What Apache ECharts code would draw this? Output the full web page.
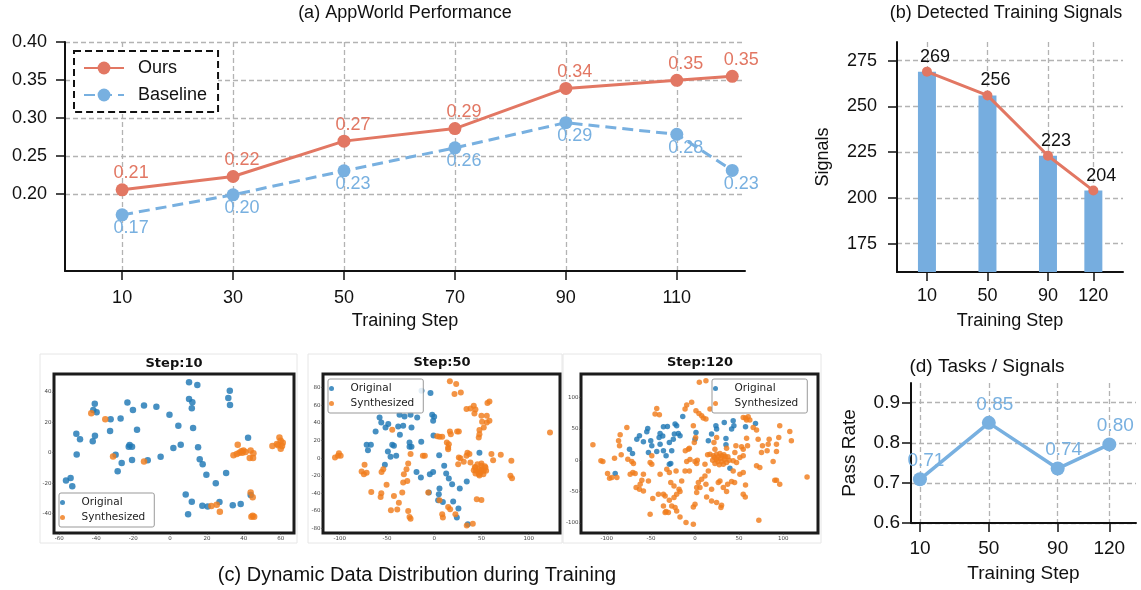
<!DOCTYPE html>
<html lang="en">
<head>
<meta charset="UTF-8">
<title>Training overview</title>
<script src="https://cdn.jsdelivr.net/npm/echarts@6/dist/echarts.min.js"></script>
<style>
    html, body { margin: 0; padding: 0; background: #fff; }
    #main { width: 1141px; height: 590px; }
</style>
</head>
<body>
<div id="main"></div>
<script type="text/javascript">
// ---- (a) AppWorld performance
var stepsA = [10, 30, 50, 70, 90, 110, 120];
var oursA = [0.2057, 0.2232, 0.2697, 0.2862, 0.339, 0.3496, 0.3549];
var baseA = [0.1728, 0.1991, 0.2307, 0.2609, 0.294, 0.2786, 0.2312];
var ticksAx = [10, 30, 50, 70, 90, 110];
var ticksAy = [0.2, 0.25, 0.3, 0.35, 0.4];

// ---- (b) detected training signals
var stepsB = [10, 50, 90, 120];
var signalsB = [269, 256, 223, 204];
var ticksBy = [175, 200, 225, 250, 275];

// ---- (d) tasks / signals
var stepsD = [10, 50, 90, 120];
var passD = [0.709, 0.8496, 0.7357, 0.796];
var ticksDy = [0.6, 0.7, 0.8, 0.9];

// ---- (c) t-SNE snapshots
var s10Orig = [[10.3,46.3],[14.8,44.6],[32.4,40.8],[31.6,36],[32.5,31.4],[-40.8,32.3],[-41.6,28.1],[-39.8,26.6],[-23.1,33],[-20.1,28.1],[-14.1,31],[-7.4,30.3],[10.3,35.4],[12.1,33.2],[11.8,29.2],[-0.3,25],[-26.8,22.6],[-32.2,22],[-32.5,14.3],[-17.9,15.2],[4.5,17.8],[12.5,16.3],[-50.8,12.5],[-48.8,8.8],[-40.7,11.2],[-41.9,7.5],[42.3,9.9],[-21.9,5.1],[-20.6,4],[-22.4,4],[5.8,5.3],[1.8,3.1],[15.2,3.6],[-50.6,-1.1],[-29.5,-1.3],[-20.6,-4.8],[-26.2,-6.8],[-12.1,-5],[-5.1,-2.6],[16.1,-4.3],[17.7,-7.6],[-28.4,-12.2],[19.7,-14.4],[30.4,-13.3],[24.8,-20.1],[-56.4,-18.2],[-53.9,-16.6],[-53,-22.1],[8.5,-27.4],[11.8,-32.2],[17.5,-34.8],[20.4,-35.3],[26.8,-32.4],[34,-34.6],[38.3,-33.7],[9.8,-40.5],[43.7,-27.8]];
var s10Syn = [[-42.7,25.9],[-35.1,22],[-30.9,-2.4],[-14.1,-5.7],[36.7,5.3],[34.4,-1.7],[36.2,-0.8],[37.6,0],[38.7,0.9],[39.8,1.4],[39.2,0],[40.9,0.5],[43.7,1.4],[45.2,-0.4],[43.2,-3.5],[45,-3.5],[55.5,4.4],[57.9,5.7],[59.3,10.1],[60,7.9],[61.1,6.6],[58.6,4.9],[60,2.7],[60.7,4.4],[43.7,-26.1],[44.8,-29.3],[25.3,-34.2],[22.4,-35],[27,-38.8],[44.8,-41.4],[45.6,-42.1],[44.1,-42.1]];

var s50Orig = [[-3.9,74],[-13.4,76.6],[-57.8,46.3],[-56,40.6],[-48.6,38.7],[-51.5,34.9],[-38.1,36],[-32.8,36.8],[-36.7,49.3],[-31.4,47.4],[-25,49.3],[-18,46.3],[-24,34.9],[-62,30.4],[-36.3,26.6],[-2.1,49.3],[0,47],[-1.1,42.5],[-0.7,25.8],[-71.5,15.2],[-67,15.2],[-70.1,9.1],[-44.4,15.2],[-42.6,14.1],[-49,7.6],[-46.2,1.5],[-40.2,2.7],[-26.1,17.8],[-13.7,18.6],[-24,12.9],[-52.2,-7.6],[-18.7,-15.6],[-14.1,-22],[-4.6,-18.2],[-1.1,-15.6],[5.3,3.4],[10.6,-8.7],[12.7,-17.4],[15.5,-23.1],[19,-29.6],[5.6,-34.5],[4.9,-41],[-5.6,-39.1],[4.2,-47.8],[9.2,-49.7],[20.1,-49.3],[27.1,-34.5],[34.5,-26.6],[25.7,-57.3],[24,-67.5],[35.6,-75.1],[47.9,6.1],[-26.1,12.9]];
var s50Syn = [[16.6,87.3],[23.3,84.2],[21.5,72.8],[28.2,74.7],[56.4,62.6],[58.5,64.5],[34.2,55.8],[38.4,56.5],[41.9,59.6],[43.7,55.4],[42.6,50.8],[50,48.2],[55.7,48.2],[55.7,40.6],[58.5,42.5],[52.5,34.9],[50.7,41.4],[47.9,31.9],[47.2,23.5],[47.9,27.3],[16.6,30.4],[17.6,27.3],[24.3,30.4],[26.1,30.4],[3.2,25],[8.5,24.3],[13.4,17.8],[15.5,15.9],[14.8,12.1],[35.2,6.1],[34.2,2.7],[27.8,0],[25.4,-6.8],[31.3,-4.2],[38.4,-4.9],[43.7,-10.6],[47.2,-12.5],[50.7,-12.5],[49,-16.3],[52.5,-14.4],[44.4,-14.4],[50,-8.7],[54.3,-10.6],[47.2,-18.2],[60.6,4.6],[70.5,3.8],[62.4,-2.3],[81.7,-3],[80.7,-20.1],[82.4,-22.8],[45.1,-46.7],[50,-47.4],[122.6,29.2],[-100.8,5.7],[-99,2.7],[-105,0.8],[-101.8,2.7],[-73.7,-7.6],[-76.8,-15.2],[-74.4,-18.2],[-71.5,-16.7],[-53.9,-12.5],[-55.7,-15.6],[-66.6,-38.3],[-56,-39.8],[-56.7,-44],[-50.4,-30.3],[-42.6,-42.9],[-37.4,-50.5],[-39.1,-58.2],[-45.8,-59.2],[-33.8,-39.1],[-32.8,-27.7],[-32.1,-18.2],[-29.3,-12.5],[-27.5,-6.1],[-28.5,-25.8],[-27.5,-59.9],[-26.1,-66.8],[-25,-68.7],[-44.4,32.2],[-25,4.6],[-12,2.7],[-9.9,2.7],[-6.3,-39.1],[5.6,-47.8],[14.8,-55.4],[16.9,-58.1],[8.5,-63.7],[9.2,-67.5],[22.5,-63.7],[34.5,-76.6],[40.9,-74.4],[5.6,24.3],[14.8,10.2],[26.1,0.8],[37.3,4.6],[43,-9.9],[45.8,-6.8],[50,-6.1],[53.6,-9.1],[55,-14.4],[52.1,-18.2],[47.9,-19.7],[43.7,-17.4],[41.9,-13.7],[49,-14.4]];

var s120Orig = [[-13.9,69.9],[-22.6,57.6],[-20.8,54.9],[-31.3,53.9],[-35.8,53.3],[-53.6,50.7],[-54.7,45.3],[-63,39],[-66,33.6],[-58.5,29.3],[-50.2,30.9],[-40.7,36.3],[-36.6,38.4],[-23.4,41.6],[-18.9,42.7],[-24.6,33.6],[-29.1,28.3],[-39.6,25.6],[-49,22.9],[-52.8,12.3],[-43.4,13.9],[-35.8,15],[-32.8,7],[-26.4,15],[-27.5,-5.3],[-29.1,-6.4],[-74.3,17.6],[-70.9,10.7],[-90.5,-21.3],[1.1,44.3],[0,33.6],[18.8,41.6],[23.7,54.9],[24.5,49.6],[15.1,30.9],[35.1,34.7],[35.1,24.5],[33.2,60.3],[43.3,62.9],[44.1,54.9],[41.5,49.6],[57.3,53.3],[68.6,58.7],[39.6,-12.8],[-17,39],[-39.6,42.7]];
var s120Syn = [[4.9,124.3],[12.4,126.9],[-115.8,24.5],[-106.7,-1.1],[-104.5,-2.1],[-99.2,-21.3],[-96.9,-28.8],[-83.7,8.5],[-77.3,52.3],[-84.9,40.5],[-86.7,30.9],[-85.6,22.9],[-76.2,1.6],[-71.7,-2.1],[-69.8,-5.3],[-70.5,-19.7],[-67.9,-21.3],[-58.5,-22.4],[-60.3,-32],[-62.2,-38.4],[-66.8,-43.7],[-63,-46.4],[-58.5,-49.1],[-52.8,-33.1],[-50.9,-3.7],[-49,7],[-47.9,-61.3],[-41.5,-54.4],[-35.8,-54.4],[-33.9,-57.1],[-39.6,-22.4],[-27.5,-35.7],[-23.8,-41.1],[-18.1,-46.4],[-17,-50.1],[-20.8,-54.4],[-32,-14.4],[-21.5,-17.1],[-11.3,-17.1],[-9.4,-2.1],[-5.7,1.1],[0,-2.1],[2.6,0],[1.9,-5.3],[-6.4,19.2],[-7.5,17.6],[-3.8,92.3],[-9.4,88],[-11.3,81.6],[1.1,78.9],[4.5,74.7],[7.5,70.9],[9.4,67.2],[12.4,65.6],[17,81.6],[-43.4,82.7],[-45.3,73.6],[-40.4,72.5],[-1.9,54.9],[-0.8,28.3],[0.7,36.3],[21.5,28.3],[24.5,36.3],[22.6,17.6],[14.3,8.5],[11.3,-6.4],[15.1,-17.1],[11.3,-25.1],[7.5,-30.4],[3.8,-35.7],[5.6,-43.7],[1.9,-43.7],[13.2,-58.7],[18.8,-65.1],[24.5,-67.7],[30.1,-72],[29.4,-75.7],[26.4,-35.7],[28.3,-33.1],[32.1,-43.7],[37,-38.4],[41.5,-34.1],[44.9,-35.7],[35.8,-50.1],[43.3,-17.1],[50.9,-22.4],[54.7,-19.7],[57.3,-39.5],[54.7,-54.4],[57,-58.7],[50.9,4.3],[54.7,7],[54.7,17.6],[52.8,21.3],[59.6,22.9],[46.4,22.9],[58.5,35.2],[69.8,48],[71.6,33.6],[76.5,22.9],[69.8,-9.1],[73.5,-11.7],[88.6,-2.1],[90.5,-32],[92.4,-32],[96.1,-38.4],[127.1,-26.7],[72.4,-96],[57.3,67.2],[54.7,68.3],[60.3,69.3],[58.5,64],[62.2,64],[66,52.3],[84.1,33.6],[92.4,25.6],[95,36.3],[107.5,45.9],[109.3,30.9],[92.4,13.9],[96.1,54.9],[81.8,15],[83,25.6],[75.4,12.3],[-50.9,-86.4],[-35.8,-73.1],[-32.8,-82.1],[-30.2,-83.7],[-26.4,-73.1],[-22.6,-75.7],[-20.8,-81.1],[-17,-90.7],[-10.2,-99.7],[-1.9,-102.4],[0,-70.4],[-1.9,-74.7],[-33.9,-83.7],[-11,14.9],[-6.4,-17.1],[35.8,19.2],[43.3,-1.1],[47.1,-3.7],[45.2,12.3],[17,9.6],[18.8,-46.4],[12.4,-38.4],[1.9,-51.7],[-15.1,-33.1],[-23.8,-59.7],[-29.1,-64],[-29.1,-19.7],[-49,-6.4],[-91.3,3.2],[-88.6,-27.7],[-94.3,-27.7],[-73.5,-22.4],[20.7,6.9],[24.5,9.6],[28.3,10.7],[32.8,8.5],[37.3,5.3],[38.8,0],[35.8,-3.7],[32.1,-6.4],[27.5,-7.5],[22.6,-5.3],[20,0],[24.5,1.6],[29,3.2],[33.5,1.1],[30.5,-2.1],[26,-2.1],[22.2,4.3],[34.3,5.3],[30.2,6.9],[26.4,5.3]];

var FONT = 'Liberation Sans, Arial, sans-serif';
var MPL = 'DejaVu Sans, sans-serif';
var RED = '#e27763', BLUE = '#78b0e0', BAR = '#76addf';
var C_ORIG = '#1f77b4', C_SYN = '#f07c1c';

var myChart = echarts.init(document.getElementById('main'));

function pairs(xs, ys) {
    return xs.map(function (x, i) { return [x, ys[i]]; });
}

// axis with left/bottom spine, outward ticks and dashed grid at the given ticks
function plotAxis(gi, min, max, ticks, o) {
    return {
        type: 'value', gridIndex: gi, min: min, max: max,
        axisLine: {show: true, onZero: false, lineStyle: {color: '#111', width: 2}},
        axisTick: {show: true, customValues: ticks, length: o.tickLen, lineStyle: {color: '#111', width: 1.5}},
        axisLabel: {customValues: ticks, margin: o.margin, fontSize: o.fs, color: '#111', fontFamily: FONT,
            formatter: o.fmt},
        splitLine: {show: true, lineStyle: {color: '#b3b3b3', type: [5, 3], width: 1.3}},
        name: o.name, nameLocation: 'middle', nameGap: o.nameGap,
        nameTextStyle: {fontSize: o.fs, color: '#111', fontFamily: FONT}
    };
}

// small framed axis for the scatter snapshots
function scAxis(gi, min, max, ticks) {
    return {
        type: 'value', gridIndex: gi, min: min, max: max,
        axisLine: {show: false, onZero: false},
        axisTick: {show: true, customValues: ticks, length: 1.5, lineStyle: {color: '#333', width: 0.8}},
        axisLabel: {customValues: ticks, margin: 2.5, fontSize: 5.5, color: '#444', fontFamily: MPL},
        splitLine: {show: false}
    };
}

function scGrid(left, width) {
    return {left: left, top: 374, width: width, height: 159, show: true,
        borderColor: '#1b1b1b', borderWidth: 3, backgroundColor: '#fff', outerBoundsMode: 'none'};
}

function scLegend(left) {
    return {
        data: ['Original', 'Synthesized'], left: left, top: 379, orient: 'vertical',
        icon: 'circle', itemWidth: 28, itemHeight: 5, itemGap: 2, padding: [3, 9, 3, 1],
        backgroundColor: 'rgba(255,255,255,0.85)', borderColor: '#999', borderWidth: 1, borderRadius: 2,
        textStyle: {fontSize: 10.5, lineHeight: 13, color: '#222', fontFamily: MPL}
    };
}

function scSeries(name, idx, data, color, size) {
    return {
        type: 'scatter', name: name, xAxisIndex: idx, yAxisIndex: idx, data: data,
        symbolSize: size, itemStyle: {color: color, opacity: 0.82}
    };
}

var fmt2 = function (v) { return v.toFixed(2); };
var fmt1 = function (v) { return v.toFixed(1); };

var option = {
    animation: false,
    backgroundColor: '#fff',
    grid: [
        {left: 65, top: 42, width: 680, height: 229, outerBoundsMode: 'none'},
        {left: 897, top: 42, width: 226, height: 230, outerBoundsMode: 'none'},
        scGrid(54, 240),
        scGrid(323, 237),
        scGrid(581, 237),
        {left: 911, top: 383, width: 225, height: 140, outerBoundsMode: 'none'}
    ],
    xAxis: [
        plotAxis(0, -0.3, 122.3, ticksAx, {tickLen: 9, margin: 18, fs: 18, name: 'Training Step', nameGap: 41}),
        plotAxis(1, -9.8, 139.6, stepsB, {tickLen: 9, margin: 15, fs: 18, name: 'Training Step', nameGap: 40}),
        scAxis(2, -62.9, 67.2, [-60, -40, -20, 0, 20, 40, 60]),
        scAxis(3, -117.7, 133.2, [-100, -50, 0, 50, 100]),
        scAxis(4, -129.3, 139.5, [-100, -50, 0, 50, 100]),
        plotAxis(5, 4.8, 135.5, stepsD, {tickLen: 9, margin: 16, fs: 19, name: 'Training Step', nameGap: 41})
    ],
    yAxis: [
        plotAxis(0, 0.099, 0.40, ticksAy, {tickLen: 9, margin: 18, fs: 18, fmt: fmt2}),
        plotAxis(1, 159.5, 285.2, ticksBy, {tickLen: 9, margin: 20, fs: 18, name: 'Signals', nameGap: 65}),
        scAxis(2, -52.8, 51.8, [-40, -20, 0, 20, 40]),
        scAxis(3, -85, 95.6, [-80, -60, -40, -20, 0, 20, 40, 60, 80]),
        scAxis(4, -116.3, 137.6, [-100, -50, 0, 50, 100]),
        plotAxis(5, 0.6, 0.949, ticksDy, {tickLen: 9, margin: 11, fs: 19, fmt: fmt1, name: 'Pass Rate', nameGap: 52})
    ],
    legend: [
        {
            data: ['Ours', 'Baseline'], left: 74, top: 51, orient: 'vertical',
            itemWidth: 40, itemHeight: 16, itemGap: 9, padding: [8, 11, 8, 9],
            backgroundColor: '#fff', borderColor: '#111', borderWidth: 2, borderType: [7, 4],
            textStyle: {fontSize: 18, lineHeight: 18, color: '#111', fontFamily: FONT, padding: [0, 0, 0, 9]}
        },
        {
            data: ['Original', 'Synthesized'], left: 59, top: 493, orient: 'vertical',
            icon: 'circle', itemWidth: 28, itemHeight: 5, itemGap: 2, padding: [3, 9, 3, 1],
            backgroundColor: 'rgba(255,255,255,0.85)', borderColor: '#999', borderWidth: 1, borderRadius: 2,
            textStyle: {fontSize: 10.5, lineHeight: 13, color: '#222', fontFamily: MPL}
        },
        scLegend(328),
        scLegend(712)
    ],
    graphic: [
        {type: 'rect', shape: {x: 40, y: 354, width: 257, height: 189}, style: {fill: 'none', stroke: '#e6e6e6', lineWidth: 1}, z: -10},
        {type: 'rect', shape: {x: 308, y: 354, width: 254, height: 189}, style: {fill: 'none', stroke: '#e6e6e6', lineWidth: 1}, z: -10},
        {type: 'rect', shape: {x: 563, y: 354, width: 258, height: 189}, style: {fill: 'none', stroke: '#e6e6e6', lineWidth: 1}, z: -10},
        {type: 'text', x: 405, y: 13, style: {text: '(a) AppWorld Performance', font: '18px ' + FONT, fill: '#111', textAlign: 'center', textVerticalAlign: 'middle', align: 'center', verticalAlign: 'middle'}},
        {type: 'text', x: 1006, y: 13, style: {text: '(b) Detected Training Signals', font: '18px ' + FONT, fill: '#111', textAlign: 'center', textVerticalAlign: 'middle', align: 'center', verticalAlign: 'middle'}},
        {type: 'text', x: 987, y: 367, style: {text: '(d) Tasks / Signals', font: '19px ' + FONT, fill: '#111', textAlign: 'center', textVerticalAlign: 'middle', align: 'center', verticalAlign: 'middle'}},
        {type: 'text', x: 417, y: 575, style: {text: '(c) Dynamic Data Distribution during Training', font: '20px ' + FONT, fill: '#111', textAlign: 'center', textVerticalAlign: 'middle', align: 'center', verticalAlign: 'middle'}},
        {type: 'text', x: 174, y: 364, style: {text: 'Step:10', font: 'bold 13px ' + MPL, fill: '#111', textAlign: 'center', textVerticalAlign: 'middle', align: 'center', verticalAlign: 'middle'}},
        {type: 'text', x: 442, y: 363, style: {text: 'Step:50', font: 'bold 13px ' + MPL, fill: '#111', textAlign: 'center', textVerticalAlign: 'middle', align: 'center', verticalAlign: 'middle'}},
        {type: 'text', x: 700, y: 363, style: {text: 'Step:120', font: 'bold 13px ' + MPL, fill: '#111', textAlign: 'center', textVerticalAlign: 'middle', align: 'center', verticalAlign: 'middle'}}
    ],
    series: [
        {
            type: 'line', name: 'Baseline', xAxisIndex: 0, yAxisIndex: 0, data: pairs(stepsA, baseA),
            symbol: 'circle', symbolSize: 13, itemStyle: {color: BLUE},
            lineStyle: {color: BLUE, width: 3, type: [11, 6]},
            label: {show: true, position: 'bottom', offset: [9, -7], color: BLUE, fontSize: 18, fontFamily: FONT,
                formatter: function (p) { return p.value[1].toFixed(2); }}
        },
        {
            type: 'line', name: 'Ours', xAxisIndex: 0, yAxisIndex: 0, data: pairs(stepsA, oursA),
            symbol: 'circle', symbolSize: 13, itemStyle: {color: RED},
            lineStyle: {color: RED, width: 3},
            label: {show: true, position: 'top', offset: [9, 4], color: RED, fontSize: 18, fontFamily: FONT,
                formatter: function (p) { return p.value[1].toFixed(2); }}
        },
        {
            type: 'bar', name: 'Signals bar', xAxisIndex: 1, yAxisIndex: 1, data: pairs(stepsB, signalsB),
            barWidth: 18, clip: true, itemStyle: {color: BAR}
        },
        {
            type: 'line', name: 'Signals', xAxisIndex: 1, yAxisIndex: 1, data: pairs(stepsB, signalsB),
            symbol: 'circle', symbolSize: 10, itemStyle: {color: RED}, lineStyle: {color: RED, width: 3},
            label: {show: true, position: 'top', offset: [8, 4], color: '#111', fontSize: 18, fontFamily: FONT,
                formatter: function (p) { return p.value[1]; }}
        },
        scSeries('Original', 2, s10Orig, C_ORIG, 6.5),
        scSeries('Synthesized', 2, s10Syn, C_SYN, 6.5),
        scSeries('Original', 3, s50Orig, C_ORIG, 6),
        scSeries('Synthesized', 3, s50Syn, C_SYN, 6),
        scSeries('Original', 4, s120Orig, C_ORIG, 5.5),
        scSeries('Synthesized', 4, s120Syn, C_SYN, 5.5),
        {
            type: 'line', name: 'Pass Rate', xAxisIndex: 5, yAxisIndex: 5, data: pairs(stepsD, passD),
            symbol: 'circle', symbolSize: 14, itemStyle: {color: BLUE}, lineStyle: {color: BLUE, width: 3.5},
            label: {show: true, position: 'top', offset: [6, 3], color: BLUE, fontSize: 19, fontFamily: FONT,
                formatter: function (p) { return p.value[1].toFixed(2); }}
        }
    ]
};

myChart.setOption(option);
</script>
</body>
</html>
